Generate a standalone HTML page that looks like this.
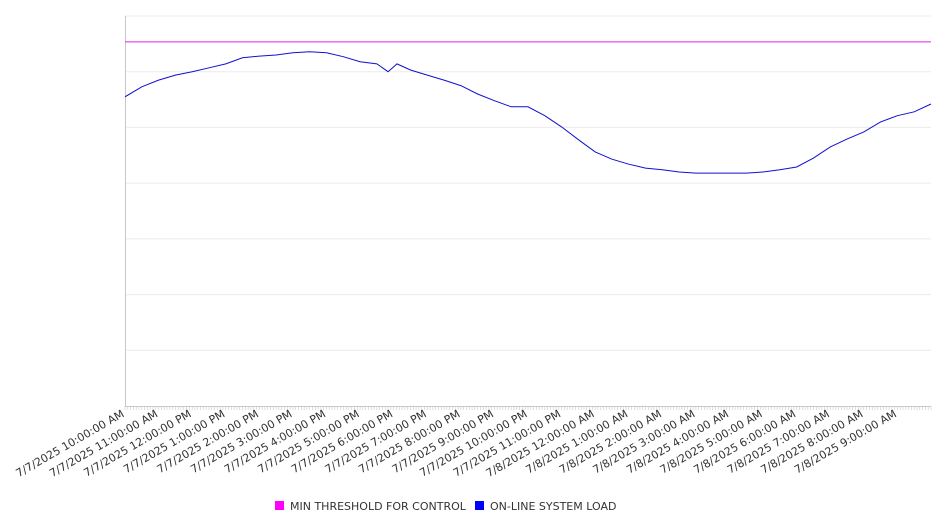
<!DOCTYPE html>
<html><head><meta charset="utf-8"><style>
html,body{margin:0;padding:0;background:#fff;}
svg{display:block;font-family:"DejaVu Sans","Liberation Sans",sans-serif;}
</style></head><body>
<svg id="chart" width="946" height="526"></svg>
<script>
const minutes=[0,30,60,90,120,150,180,210,240,270,300,330,360,390,420,450,470,486,510,540,570,600,630,660,690,720,750,780,810,840,870,900,930,960,990,1020,1050,1080,1110,1140,1170,1200,1230,1260,1290,1320,1350,1380,1410,1440];
const loadValues=[55.5,57.3,58.5,59.4,60.0,60.7,61.4,62.5,62.8,63.0,63.4,63.6,63.4,62.7,61.8,61.4,60.0,61.4,60.3,59.4,58.5,57.5,56.0,54.8,53.7,53.7,52.1,50.1,47.8,45.6,44.3,43.4,42.7,42.4,42.0,41.8,41.8,41.8,41.8,42.0,42.4,42.9,44.5,46.5,47.9,49.2,51.0,52.1,52.8,54.2];
const thresholdValue=65.35;
const tickLabels=["7/7/2025 10:00:00 AM","7/7/2025 11:00:00 AM","7/7/2025 12:00:00 PM","7/7/2025 1:00:00 PM","7/7/2025 2:00:00 PM","7/7/2025 3:00:00 PM","7/7/2025 4:00:00 PM","7/7/2025 5:00:00 PM","7/7/2025 6:00:00 PM","7/7/2025 7:00:00 PM","7/7/2025 8:00:00 PM","7/7/2025 9:00:00 PM","7/7/2025 10:00:00 PM","7/7/2025 11:00:00 PM","7/8/2025 12:00:00 AM","7/8/2025 1:00:00 AM","7/8/2025 2:00:00 AM","7/8/2025 3:00:00 AM","7/8/2025 4:00:00 AM","7/8/2025 5:00:00 AM","7/8/2025 6:00:00 AM","7/8/2025 7:00:00 AM","7/8/2025 8:00:00 AM","7/8/2025 9:00:00 AM"];
const yMax=70, yStep=10, totalMinutes=1440;

const NS="http://www.w3.org/2000/svg";
const svg=document.getElementById('chart');
const L=125,R=931,T=16,B=406;
const x=m=>L+(R-L)*m/totalMinutes;
const y=v=>B-(B-T)*v/yMax;
function mk(tag,attrs,parent){const e=document.createElementNS(NS,tag);for(const k in attrs)e.setAttribute(k,attrs[k]);(parent||svg).appendChild(e);return e;}

for(let v=yStep;v<=yMax;v+=yStep){
  const g=mk('line',{x1:L,x2:R,y1:y(v),y2:y(v),stroke:'#ebebeb','stroke-width':1});
  
  
}
const ya=mk('line',{x1:L+0.5,x2:L+0.5,y1:T,y2:B,stroke:'#c8c8c8'});


const xa=mk('line',{x1:L,x2:R,y1:B+0.5,y2:B+0.5,stroke:'#c8c8c8'});


for(let m=0;m<=totalMinutes;m+=5){
  const t=mk('line',{x1:x(m),x2:x(m),y1:B,y2:B+4,stroke:'#c8c8c8','stroke-width':0.6});
  
  
}
tickLabels.forEach((lab,i)=>{
  const xx=x(i*60);
  const t=mk('text',{x:xx,y:B+10,'text-anchor':'end','font-size':11,fill:'#333',transform:`rotate(-30 ${xx} ${B+10})`});
  t.textContent=lab;
  
  
});
const th=mk('line',{x1:L,x2:R,y1:y(thresholdValue),y2:y(thresholdValue),stroke:'#e020e0','stroke-width':1});


const pts=minutes.map((m,i)=>x(m).toFixed(1)+','+y(loadValues[i]).toFixed(1)).join(' ');
const ln=mk('polyline',{points:pts,fill:'none',stroke:'#1010d0','stroke-width':1});



const lg=mk('g',{});


const items=[['MIN THRESHOLD FOR CONTROL','#ff00ff',275],['ON-LINE SYSTEM LOAD','#0000ff',475]];
items.forEach(([txt,c,lx])=>{
  const r=mk('rect',{x:lx,y:501,width:9,height:9,fill:c},lg);
  
  
  const t=mk('text',{x:lx+15,y:510,'font-size':11,fill:'#333'},lg);
  t.textContent=txt;
  
  
});
</script>
</body></html>
